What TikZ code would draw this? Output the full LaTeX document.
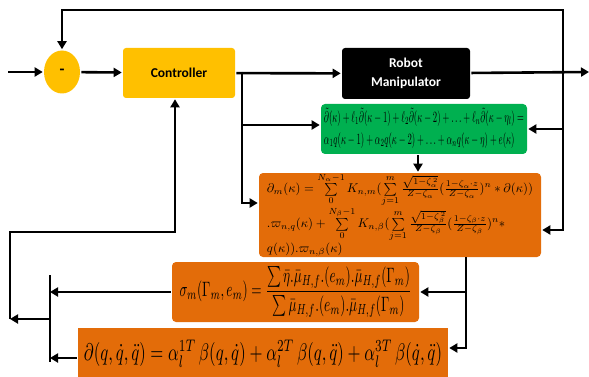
\documentclass[tikz,border=0pt]{standalone}
\usepackage{amsmath}
\usepackage{amsfonts}
\usepackage{graphicx}
\usepackage{fontspec}
\setmainfont{Carlito}
\usetikzlibrary{shapes.geometric,arrows.meta}
\definecolor{ctrlyellow}{HTML}{FFC000}
\definecolor{estgreen}{HTML}{00B050}
\definecolor{estorange}{HTML}{E36C09}

\begin{document}
\begin{tikzpicture}[x=1pt,y=-1pt,line width=2.6pt,>={Triangle[length=8pt,width=9pt]},
	block/.style={rectangle,rounded corners=3pt,inner sep=0pt,font=\fontsize{13.5}{19}\selectfont\bfseries},
	eqbox/.style={rectangle,rounded corners=4pt,inner sep=0pt,fill=estorange}]
	\useasboundingbox (0,0) rectangle (589,377);
	\node[ellipse,fill=ctrlyellow,minimum width=36pt,minimum height=43pt,inner sep=0pt,font=\fontsize{16}{16}\selectfont\bfseries] (sum) at (62,72) {-};
	\node[block,fill=ctrlyellow,minimum width=112pt,minimum height=50pt] (ctrl) at (179,73) {Controller};
	\node[block,fill=black,text=white,minimum width=128pt,minimum height=51pt,align=center] (robot) at (406,73.5) {Robot\\Manipulator};
	\node[eqbox,fill=estgreen,minimum width=206pt,minimum height=50pt] (arx) at (424,129) {\resizebox*{200pt}{42pt}{\begin{tabular}{@{}l@{}}
		$\tilde{\partial}(\kappa)+\ell_1\tilde{\partial}(\kappa-1)+\ell_2\tilde{\partial}(\kappa-2)+\ldots+\ell_n\tilde{\partial}(\kappa-\eta_l)=$\\[2pt]
		$\alpha_1q(\kappa-1)+\alpha_2q(\kappa-2)+\ldots+\alpha_nq(\kappa-\eta)+e(\kappa)$
	\end{tabular}}};
	\node[eqbox,minimum width=282pt,minimum height=84pt] (laguerre) at (400,215) {\resizebox{266pt}{!}{\begin{tabular}{@{}l@{}}
		$\partial_m(\kappa)=\sum\limits_{0}^{N_\alpha-1}K_{n,m}(\sum\limits_{j=1}^{m}\frac{\sqrt{1-\zeta_\alpha^{\,2}}}{Z-\zeta_\alpha}(\frac{1-\zeta_\alpha\cdot z}{Z-\zeta_\alpha})^n*\partial(\kappa))$\\[3pt]
		$.\varpi_{n,q}(\kappa)+\sum\limits_{0}^{N_\beta-1}K_{n,\beta}(\sum\limits_{j=1}^{m}\frac{\sqrt{1-\zeta_\beta^{\,2}}}{Z-\zeta_\beta}(\frac{1-\zeta_\beta\cdot z}{Z-\zeta_\beta})^n*$\\[3pt]
		$q(\kappa)).\varpi_{n,\beta}(\kappa)$
	\end{tabular}}};
	\node[eqbox,minimum width=247pt,minimum height=60pt] (sigma) at (295.5,292) {\resizebox*{232pt}{50pt}{$\sigma_m(\Gamma_m,e_m)=\dfrac{\sum\bar{\eta}.\bar{\mu}_{H,f}.(e_m).\bar{\mu}_{H,f}(\Gamma_m)}{\sum\bar{\mu}_{H,f}.(e_m).\bar{\mu}_{H,f}(\Gamma_m)}$}};
	\node[eqbox,rounded corners=0pt,minimum width=370pt,minimum height=52pt] (phi) at (263,354) {\resizebox*{358pt}{27pt}{$\partial(q,\dot{q},\ddot{q})=\alpha_l^{1T}\,\beta(q,\dot{q})+\alpha_l^{2T}\,\beta(q,\ddot{q})+\alpha_l^{3T}\,\beta(\dot{q},\ddot{q})$}};
	\coordinate (in) at (8,72);
	\coordinate (tapout) at (563,72);
	\coordinate (out) at (589,72);
	\coordinate (tapctrl) at (242,72);
	\coordinate (tapest) at (466,257);
	\coordinate (bartop) at (50,275);
	\coordinate (barbot) at (50,362);
	\coordinate (barmid) at (50,319);
	\coordinate (lcorner) at (10,319);
	\coordinate (lup) at (10,232);
	\draw[->] (in) -- (sum);
	\draw[->] (sum) -- (ctrl);
	\draw[->] (ctrl) -- (robot);
	\draw[->] (robot) -- (out);
	\draw[->] (tapout) -- (563,10) -| (sum.north);
	\draw[->] (tapout) |- (arx.east);
	\draw[->] (tapout) |- ([yshift=-15pt]laguerre.east);
	\draw[->] (tapctrl) |- ([yshift=4pt]arx.west);
	\draw[->] (tapctrl) |- ([yshift=12pt]laguerre.west);
	\draw[->] ([xshift=-6pt]arx.south) -- ([xshift=-6pt]arx.south |- laguerre.north);
	\draw[->] (tapest) |- (sigma.east);
	\draw[->] (tapest) |- ([yshift=6pt]phi.east);
	\draw (bartop) -- (barbot);
	\draw[->] (sigma.west) -- (sigma.west -| bartop);
	\draw[->] ([yshift=-4pt]phi.west) -- ([yshift=-4pt]phi.west -| bartop);
	\draw[->] (barmid) -- (lcorner);
	\draw[->] (lcorner) -- (lup) -| ([xshift=-4pt]ctrl.south);
\end{tikzpicture}
\end{document}
